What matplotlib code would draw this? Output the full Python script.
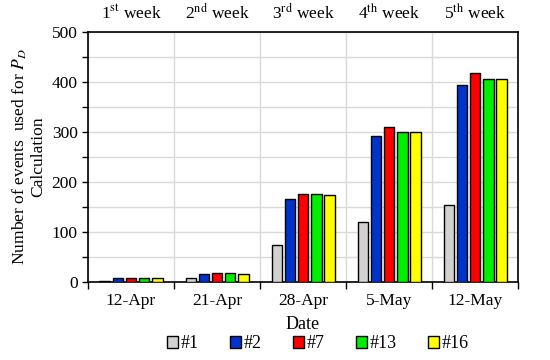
import numpy as np
import matplotlib as mpl
mpl.use('Agg')
import matplotlib.pyplot as plt
from matplotlib.patches import Patch

plt.rcParams['font.family'] = ['Liberation Serif', 'DejaVu Serif']
plt.rcParams['mathtext.fontset'] = 'stix'

dates = ['12-Apr', '21-Apr', '28-Apr', '5-May', '12-May']
weeks = ['1$^{\\mathrm{st}}$ week', '2$^{\\mathrm{nd}}$ week', '3$^{\\mathrm{rd}}$ week',
         '4$^{\\mathrm{th}}$ week', '5$^{\\mathrm{th}}$ week']
series = ['#1', '#2', '#7', '#13', '#16']
v1 = [2, 7, 74, 120, 154]
v2 = [7, 15, 165, 292, 394]
v7 = [7, 17, 176, 309, 418]
v13 = [7, 17, 175, 300, 406]
v16 = [7, 15, 173, 300, 406]
values = [v1, v2, v7, v13, v16]
colors = ['#d3d0d0', '#0033cc', '#ff0000', '#00ee00', '#ffff00']

fig = plt.figure(figsize=(5.5, 3.6), dpi=100)
ax = fig.add_axes([0.16, 0.217, 0.782, 0.694])

x = np.arange(len(dates))
w = 0.125
step = 0.152
for i, (vals, c) in enumerate(zip(values, colors)):
    ax.bar(x + (i - 2) * step, vals, width=w, color=c, edgecolor='black',
           linewidth=1.0, label=series[i], zorder=3)

ax.set_xlim(-0.5, 4.5)
ax.set_ylim(0, 500)
ax.set_yticks(np.arange(0, 501, 100))
ax.set_yticks(np.arange(0, 501, 50), minor=True)
ax.set_xticks(x)
ax.set_xticklabels(dates)
ax.set_xticks(np.arange(-0.5, 4.6, 1), minor=True)
ax.tick_params(axis='x', which='major', length=0, labelsize=12.5, pad=8)
ax.tick_params(axis='x', which='minor', length=5, width=1, direction='out')
ax.tick_params(axis='y', which='both', length=4, width=1, direction='out', labelsize=12.5)
ax.grid(axis='y', which='both', color='#d9d9d9', lw=1, zorder=0)
ax.grid(axis='x', which='minor', color='#d9d9d9', lw=1, zorder=0)
for s in ax.spines.values():
    s.set_color('black')
    s.set_linewidth(1.2)

for i, wk in enumerate(weeks):
    ax.text(x[i], 1.035, wk, transform=ax.get_xaxis_transform(), ha='center',
            va='bottom', fontsize=12.5)

ax.set_xlabel('Date', fontsize=13, labelpad=5)
ax.set_ylabel('Number of events  used for $P_D$\nCalculation', fontsize=12.6,
              linespacing=1.05, labelpad=4)

handles = [Patch(facecolor=c, edgecolor='black', lw=1) for c in colors]
fig.legend(handles, series, loc='center', bbox_to_anchor=(0.578, 0.045), ncol=5,
           frameon=False, fontsize=13, handlelength=0.6, handleheight=0.6,
           handletextpad=0.15, columnspacing=1.75)

fig.savefig('out.png', dpi=100)
